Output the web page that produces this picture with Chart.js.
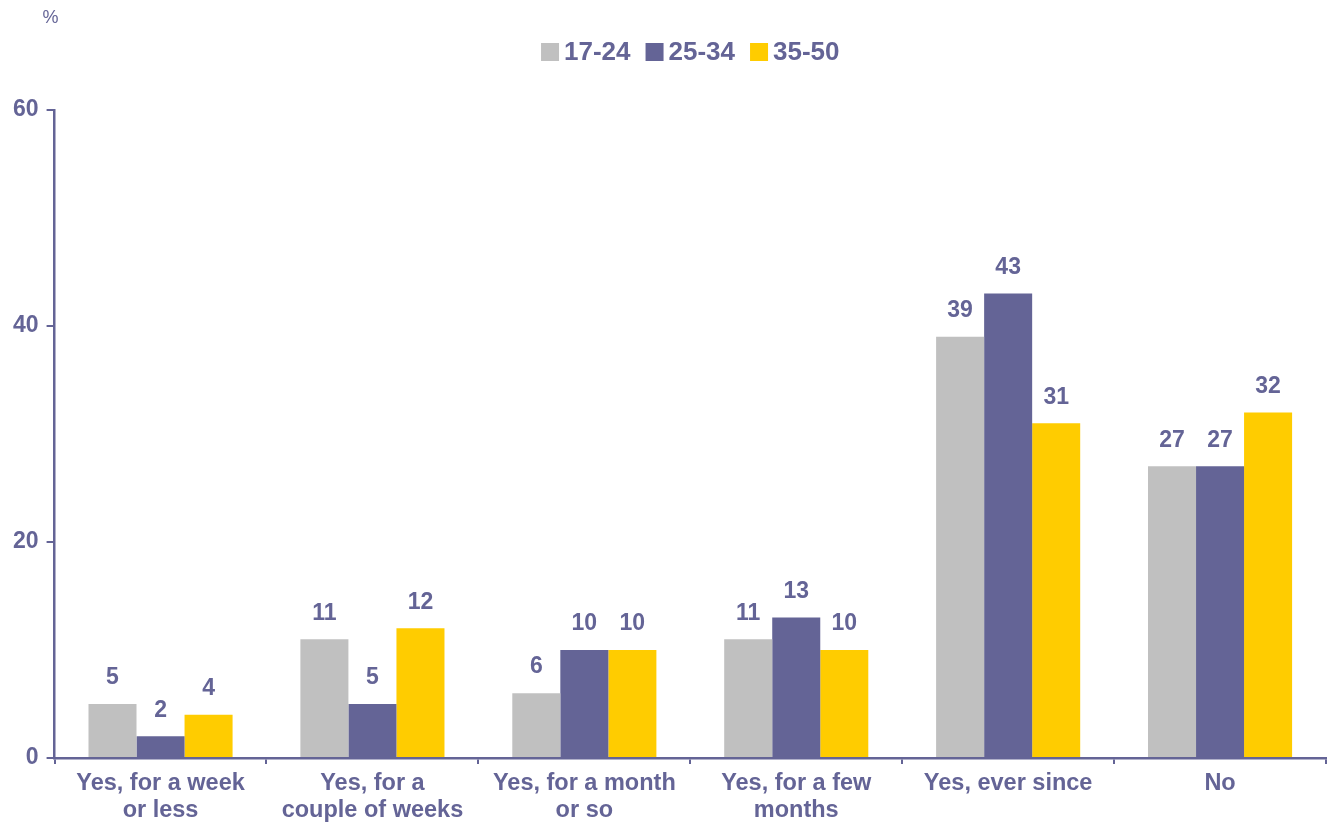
<!DOCTYPE html>
<html>
<head>
<meta charset="utf-8">
<script src="https://cdn.jsdelivr.net/npm/chart.js"></script>
<style>
  html, body { margin: 0; padding: 0; background: #fff; }
  #wrap { width: 1336px; height: 830px; }
</style>
</head>
<body>
<div id="wrap"><canvas id="chart" width="1336" height="830"></canvas></div>
<script>
const categories = [
  ['Yes, for a week', 'or less'],
  ['Yes, for a', 'couple of weeks'],
  ['Yes, for a month', 'or so'],
  ['Yes, for a few', 'months'],
  'Yes, ever since',
  'No'
];
const age17to24 = [5, 11, 6, 11, 39, 27];
const age25to34 = [2, 5, 10, 13, 43, 27];
const age35to50 = [4, 12, 10, 10, 31, 32];
const yTicks = [0, 20, 40, 60];

const ink = '#646496';
const font = 'Arial, "Liberation Sans", sans-serif';

// value labels, the "%" unit and a compact legend
const extras = {
  id: 'extras',
  afterDatasetsDraw(chart) {
    const ctx = chart.ctx;
    const area = chart.chartArea;
    ctx.save();
    ctx.fillStyle = ink;
    ctx.textAlign = 'center';
    ctx.textBaseline = 'middle';
    ctx.font = 'bold 23px ' + font;
    chart.data.datasets.forEach((ds, i) => {
      chart.getDatasetMeta(i).data.forEach((bar, j) => {
        ctx.fillText(ds.data[j], bar.x, bar.y - 26);
      });
    });

    ctx.font = '18px ' + font;
    ctx.fillText('%', area.left - 4, 18);

    // legend
    ctx.font = 'bold 26px ' + font;
    const box = 18, gap = 5, spacing = 15;
    const items = chart.data.datasets.map(ds => ({
      text: ds.label, color: ds.backgroundColor, w: ctx.measureText(ds.label).width
    }));
    const total = items.reduce((s, it) => s + box + gap + it.w, 0) + spacing * (items.length - 1);
    let x = (area.left + area.right) / 2 - total / 2;
    const y = 52;
    ctx.textAlign = 'left';
    items.forEach(it => {
      ctx.fillStyle = it.color;
      ctx.fillRect(x, y - box / 2, box, box);
      ctx.fillStyle = ink;
      ctx.fillText(it.text, x + box + gap, y + 1);
      x += box + gap + it.w + spacing;
    });
    ctx.restore();
  }
};

new Chart('chart', {
  type: 'bar',
  data: {
    labels: categories,
    datasets: [
      { label: '17-24', data: age17to24, backgroundColor: '#c0c0c0' },
      { label: '25-34', data: age25to34, backgroundColor: ink },
      { label: '35-50', data: age35to50, backgroundColor: '#ffcc00' }
    ]
  },
  options: {
    responsive: false,
    animation: false,
    layout: { padding: { top: 110, right: 10, left: 5, bottom: 0 } },
    datasets: { bar: { categoryPercentage: 0.68, barPercentage: 1.0 } },
    plugins: {
      tooltip: { enabled: false },
      legend: { display: false }
    },
    scales: {
      x: {
        grid: { display: true, drawOnChartArea: false, offset: true, tickLength: 6, color: ink, lineWidth: 2 },
        border: { color: ink, width: 2.5 },
        ticks: {
          color: ink,
          font: { family: font, size: 23.5, weight: 'bold', lineHeight: 1.15 },
          maxRotation: 0,
          autoSkip: false,
          padding: 6
        }
      },
      y: {
        min: 0,
        max: 60,
        afterBuildTicks(axis) { axis.ticks = yTicks.map(v => ({ value: v })); },
        grid: { display: true, drawOnChartArea: false, tickLength: 8, color: ink, lineWidth: 2 },
        border: { color: ink, width: 2.5 },
        ticks: {
          color: ink,
          font: { family: font, size: 23, weight: 'bold' },
          padding: 8
        }
      }
    }
  },
  plugins: [extras]
});
</script>
</body>
</html>
